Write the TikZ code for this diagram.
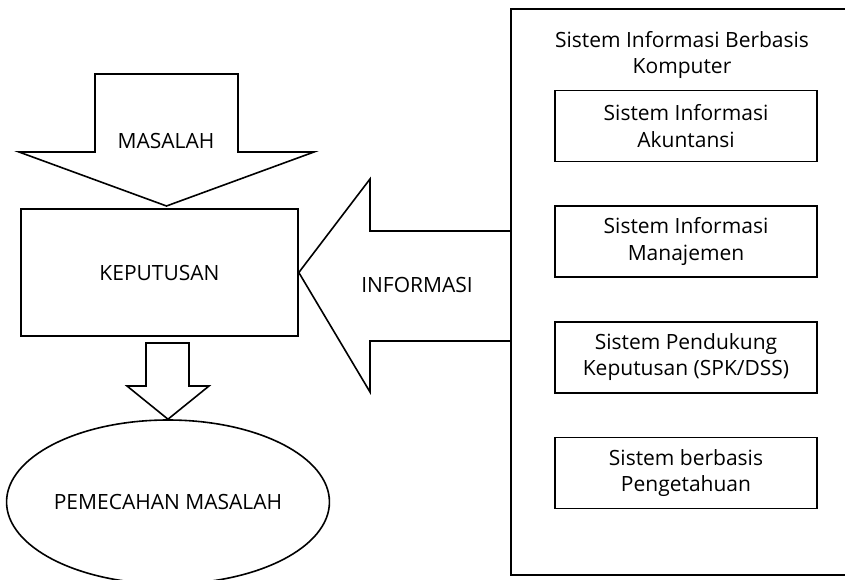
\documentclass[tikz,border=0pt]{standalone}
\usepackage{fontspec}
\setmainfont{Open Sans}
\usetikzlibrary{positioning,shapes.geometric}

\begin{document}
\begin{tikzpicture}[x=1pt,y=-1pt,line width=1.6pt,node distance=43pt,
    font=\fontsize{21}{26.5}\selectfont,
    box/.style={rectangle,draw,align=center,inner sep=0pt},
    sib box/.style={box,minimum width=262pt,minimum height=71pt},
    txt/.style={align=center,inner sep=0pt}]

            \clip (0,0) rectangle (845,580);

            % kiri
            \node[box, minimum width=277pt, minimum height=127pt] (keputusan) at (159.5,272.5) {KEPUTUSAN};
            \node[ellipse, draw, minimum width=310pt, minimum height=164pt, inner sep=0pt] (pemecahan) at (168,502) {PEMECAHAN MASALAH};

            % kanan
            \node[box, minimum width=350pt, minimum height=566pt, anchor=north west] (sibk) at (510,8) {};
            \node[txt] (judul) at (682,55) {Sistem Informasi Berbasis\\Komputer};
            \node[sib box] (sia) at (686,126) {Sistem Informasi\\Akuntansi};
            \node[sib box] (sim) [below = of sia] {Sistem Informasi\\Manajemen};
            \node[sib box] (spk) [below = of sim] {Sistem Pendukung\\Keputusan (SPK/DSS)};
            \node[sib box] (sbp) [below = of spk] {Sistem berbasis\\Pengetahuan};

            % panah blok
            \draw (95,74) -- (238,74) -- (238,152) -- (314,152) -- (166.5,206) -- (19,152) -- (95,152) -- cycle;
            \node[txt] (masalah) at (166,141) {MASALAH};

            \draw (510,231) -- (370,231) -- (370,179) -- (keputusan.east) -- (370,392) -- (370,341) -- (510,341);
            \node[txt] (informasi) at (417,285) {INFORMASI};

            \draw (146,343) -- (189,343) -- (189,386) -- (209,386) -- (pemecahan.north) -- (127,386) -- (146,386) -- cycle;

            ;
        \end{tikzpicture}
\end{document}
